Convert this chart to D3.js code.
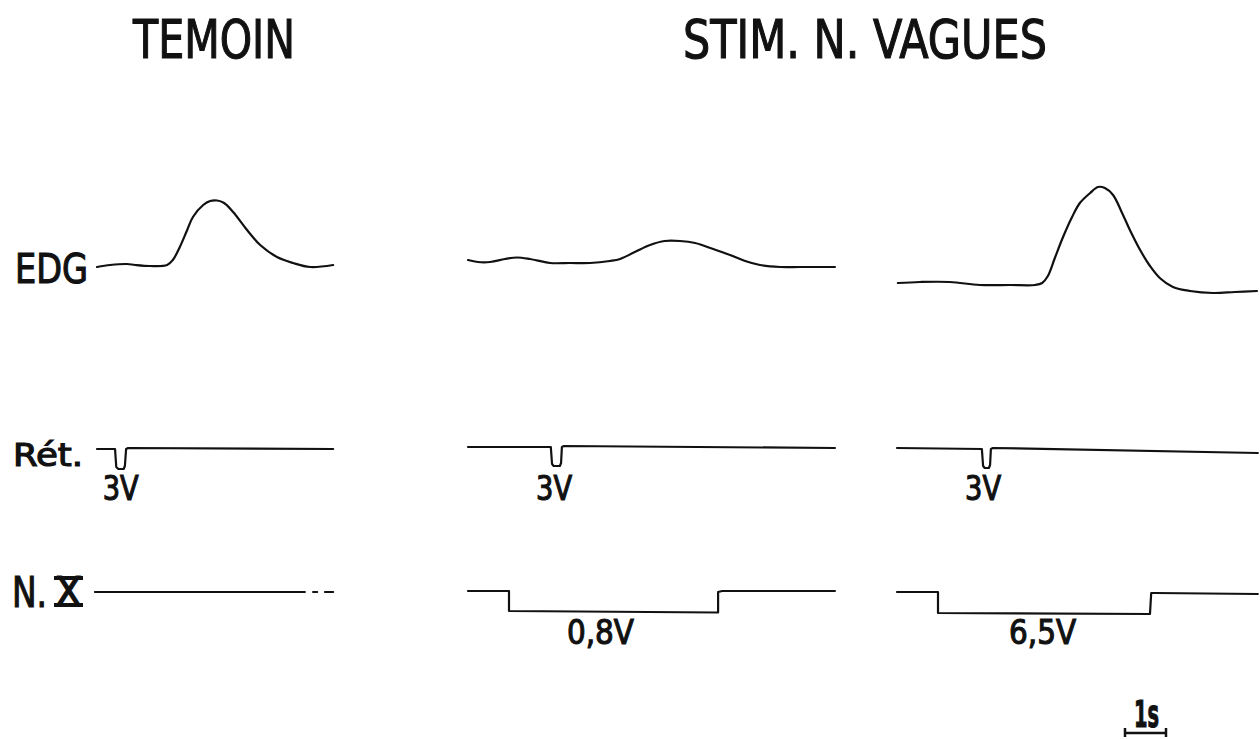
<!DOCTYPE html>
<html>
<head>
<meta charset="utf-8">
<script src="https://cdn.jsdelivr.net/npm/d3@7"></script>
<style>
  html, body { margin: 0; padding: 0; background: #fff; }
  svg { display: block; }
  text {
    font-family: "DejaVu Sans Condensed", "Liberation Sans Narrow", "DejaVu Sans", sans-serif;
    fill: #111; stroke: #111; stroke-width: 1.1px; paint-order: stroke;
  }
</style>
</head>
<body>
<svg id="chart" width="1260" height="739"></svg>
<script>
// Recordings: [time (s), deflection] — one array per channel and per condition
const conditions = ["TEMOIN", "STIM. N. VAGUES"];
const rowLabels = ["EDG", "Rét.", "N. X"];

const edgTemoin = [[0,3],[0.32,5],[0.73,6],[0.93,5],[1.29,4],[1.71,5],[1.85,10],[2.02,23],[2.20,40],[2.34,53],[2.59,65],[2.76,69],[2.93,69.5],[3.10,67],[3.32,58],[3.66,40],[3.98,25],[4.39,13],[4.78,7],[5.20,3],[5.76,5]];
const edgVag08 = [[0,10],[0.24,8],[0.54,8],[0.90,11],[1.20,12.5],[1.51,11],[2.00,7],[2.49,7],[2.98,7],[3.46,9],[3.71,11],[4.07,18],[4.44,25],[4.80,29],[5.17,29],[5.54,27],[5.98,21],[6.39,15],[6.76,9],[7.12,5],[7.61,3],[8.10,3],[8.95,3]];
const edgVag65 = [[0.02,-13],[0.56,-12],[1.29,-12],[2.02,-15],[2.76,-15],[3.37,-15],[3.54,-13],[3.68,-6],[3.85,12],[4.05,33],[4.27,53],[4.46,67],[4.71,77],[4.90,83],[5.07,82],[5.27,75],[5.49,57],[5.68,40],[5.93,20],[6.17,4],[6.41,-8],[6.73,-17],[7.15,-21],[7.71,-23],[8.24,-22],[8.78,-21]];

const retTemoin = [[0,-1],[0.44,-1],[0.47,-19],[0.52,-21],[0.65,-21],[0.68,-18],[0.71,-1],[0.76,0],[5.76,-1]];
const retVag08 = [[0,1],[2.02,1],[2.05,-16],[2.09,-18],[2.24,-18],[2.27,-15],[2.29,1],[2.34,2],[8.95,0]];
const retVag65 = [[0,0],[2.07,-1],[2.10,-18],[2.14,-20],[2.24,-20],[2.27,-17],[2.29,-1],[2.34,0],[8.80,-5]];

const nxTemoin = [[-0.05,0],[5.07,0],null,[5.27,0],[5.37,0],null,[5.56,0],[5.76,0]];
const nxVag08 = [[0,1],[1.00,1],[1.00,-19],[6.10,-20.5],[6.10,0],[6.20,1],[8.95,1]];
const nxVag65 = [[0,0],[1.00,0],[1.00,-21],[6.17,-22],[6.20,-1],[6.30,-1],[8.80,-2]];

const pulseLabels = ["3V", "3V", "3V"];
const pulseTimes = [0.58, 2.10, 2.10];
const stimLabels = [null, "0,8V", "6,5V"];
const stimMidTimes = [null, 3.23, 3.55];
const scaleBarSeconds = 1;
const scaleBarLabel = "1s";

// ---- layout ----
const svg = d3.select("#chart");
const pxPerSecond = 41;
const panelStarts = [97, 468, 897];
const rowZeros = [270, 448, 592];

const xScales = panelStarts.map(s => d3.scaleLinear().domain([0, 1]).range([s, s + pxPerSecond]));
const yScales = rowZeros.map(z => d3.scaleLinear().domain([0, 100]).range([z, z - 100]));

const traces = [
  [edgTemoin, edgVag08, edgVag65],
  [retTemoin, retVag08, retVag65],
  [nxTemoin, nxVag08, nxVag65]
];

traces.forEach((row, r) => {
  row.forEach((data, p) => {
    const line = d3.line()
      .defined(d => d !== null)
      .x(d => xScales[p](d[0]))
      .y(d => yScales[r](d[1]))
      .curve(r === 0 ? d3.curveCatmullRom.alpha(0.5) : d3.curveLinear);
    svg.append("path")
      .attr("d", line(data))
      .attr("fill", "none")
      .attr("stroke", "#111")
      .attr("stroke-width", 2.2)
      .attr("stroke-linejoin", "round")
      .attr("stroke-linecap", "round");
  });
});

// helper: text fitted to a given width
function label(txt, x, y, size, width, anchor) {
  return svg.append("text")
    .attr("x", x).attr("y", y)
    .attr("font-size", size)
    .attr("text-anchor", anchor || "start")
    .attr("textLength", width)
    .attr("lengthAdjust", "spacingAndGlyphs")
    .text(txt);
}

// titles
label(conditions[0], 214, 58, 53, 162, "middle");
label(conditions[1], 865, 58, 53, 364, "middle");

// row labels
label(rowLabels[0], 15, 283, 41, 73);
label(rowLabels[1], 13, 466, 32, 70);
label("N.", 12, 607, 43, 35);
label("X", 55, 606, 40, 27);
// serif bars of the roman numeral
svg.append("line").attr("x1", 54).attr("x2", 83).attr("y1", 578).attr("y2", 578)
  .attr("stroke", "#111").attr("stroke-width", 4);
svg.append("line").attr("x1", 54).attr("x2", 83).attr("y1", 605).attr("y2", 605)
  .attr("stroke", "#111").attr("stroke-width", 4);

// pulse amplitude labels
pulseLabels.forEach((t, p) => {
  label(t, xScales[p](pulseTimes[p]), 500, 34, 36, "middle");
});
stimLabels.forEach((t, p) => {
  if (!t) return;
  label(t, xScales[p](stimMidTimes[p]), 644, 33, 67, "middle");
});

// time calibration bar
const barX0 = 1125, barY = 733;
const barScale = d3.scaleLinear().domain([0, 1]).range([barX0, barX0 + pxPerSecond]);
svg.append("path")
  .attr("d", `M${barScale(0)},${barY}H${barScale(scaleBarSeconds)}`)
  .attr("fill", "none").attr("stroke", "#111").attr("stroke-width", 2.5);
[0, scaleBarSeconds].forEach(s => {
  svg.append("line")
    .attr("x1", barScale(s)).attr("x2", barScale(s))
    .attr("y1", barY - 5).attr("y2", barY + 4)
    .attr("stroke", "#111").attr("stroke-width", 2.5);
});
label(scaleBarLabel, barScale(scaleBarSeconds / 2) + 1, 727, 38, 25, "middle").attr("font-weight", "bold");
</script>
</body>
</html>
